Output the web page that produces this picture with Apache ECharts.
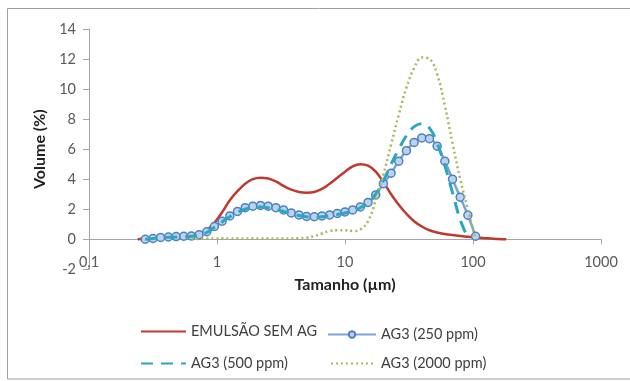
<!DOCTYPE html>
<html>
<head>
<meta charset="utf-8">
<script src="https://cdn.jsdelivr.net/npm/echarts@6/dist/echarts.min.js"></script>
<style>html,body{margin:0;padding:0;background:#fff}#c{width:630px;height:381px}</style>
</head>
<body>
<div id="c"></div>
<script>
// Particle size (µm)
var sizes = [0.240,0.275,0.316,0.363,0.417,0.479,0.550,0.631,0.724,0.832,0.955,1.096,1.259,1.445,1.660,1.905,2.188,2.512,2.884,3.311,3.802,4.365,5.012,5.754,6.607,7.586,8.710,10.00,11.48,13.18,15.14,17.38,19.95,22.91,26.30,30.20,34.67,39.81,45.71,52.48,60.26,69.18,79.43,91.20,104.7,120.2,138.0,158.5,182.0];
var seriesNames = ['EMULSÃO SEM AG','AG3 (250 ppm)','AG3 (500 ppm)','AG3 (2000 ppm)'];
var semAG = [0,0.05,0.1,0.15,0.18,0.2,0.2,0.22,0.3,0.6,1.1,1.8,2.6,3.2,3.7,4.0,4.1,4.05,3.85,3.55,3.3,3.15,3.1,3.15,3.35,3.7,4.1,4.5,4.85,5.0,4.9,4.5,3.8,3.0,2.3,1.7,1.2,0.85,0.6,0.45,0.35,0.28,0.22,0.17,0.12,0.08,0.05,0.02,0];
var ag250 = [null,0,0.05,0.12,0.15,0.18,0.2,0.22,0.3,0.5,0.85,1.2,1.55,1.85,2.1,2.2,2.25,2.2,2.1,1.95,1.75,1.62,1.52,1.5,1.55,1.62,1.72,1.82,1.95,2.15,2.45,2.95,3.7,4.4,5.2,5.9,6.45,6.75,6.7,6.2,5.2,4.0,2.8,1.6,0.2,null,null,null,null];
var ag500 = [null,0,0.05,0.1,0.13,0.15,0.18,0.2,0.28,0.45,0.8,1.15,1.5,1.8,2.0,2.12,2.15,2.1,2.0,1.85,1.7,1.58,1.5,1.47,1.5,1.57,1.65,1.75,1.88,2.1,2.4,3.0,3.9,5.0,6.0,6.9,7.5,7.7,7.4,6.4,4.9,3.1,1.3,0.1,null,null,null,null,null];
var ag2000 = [null,null,null,null,null,null,null,0,0.02,0.04,0.05,0.05,0.05,0.05,0.05,0.05,0.05,0.05,0.05,0.05,0.05,0.07,0.1,0.2,0.38,0.55,0.6,0.6,0.55,0.65,1.2,2.6,4.3,6.3,8.3,10.1,11.4,12.1,12.0,11.0,8.9,6.4,4.0,2.0,0.05,null,null,null,null];
var xTickLabels = {'0.1':'0,1','1':'1','10':'10','100':'100','1000':'1000'};
var yTicks = {min:-2,max:14,step:2};

function pairs(vals){
  var out=[];
  for(var i=0;i<sizes.length;i++){ if(vals[i]!==null) out.push([sizes[i],vals[i]]); }
  return out;
}
var FONT = 'Lato';
var chart = echarts.init(document.getElementById('c'), null, {renderer:'canvas'});
function leg(name, left, top, w, h, hideSymbol){
  var item = {name:name};
  if(hideSymbol) item.itemStyle = {opacity:0};
  return {data:[item], left:left, top:top, orient:'horizontal', padding:0, itemWidth:w, itemHeight:h, itemGap:4,
    textStyle:{fontFamily:FONT, fontSize:14.5, color:'#404040'}, selectedMode:false};
}
chart.setOption({
  animation:false,
  textStyle:{fontFamily:FONT},
  graphic:[{type:'rect', shape:{x:7.5,y:8.5,width:640,height:370.5}, style:{fill:'none', stroke:'#a0a0a0', lineWidth:1}, silent:true}],
  grid:{left:89, right:29, top:29, bottom:111.7, containLabel:false},
  legend:[leg(seriesNames[0],140,324,45,14,true), leg(seriesNames[1],327,327,48,8,false), leg(seriesNames[2],140,356,45,14,true), leg(seriesNames[3],330,356,45,14,true)],
  xAxis:{type:'log', logBase:10, min:0.1, max:1000, offset:-30,
    name:'Tamanho (µm)', nameLocation:'middle', nameGap:38,
    nameTextStyle:{fontFamily:FONT, fontSize:16, fontWeight:'bold', color:'#222'},
    axisLine:{onZero:false, lineStyle:{color:'#a6a6a6', width:1}},
    axisTick:{show:true, length:5, lineStyle:{color:'#a6a6a6'}},
    minorTick:{show:false}, splitLine:{show:false},
    axisLabel:{margin:16, fontFamily:FONT, fontSize:14.5, color:'#595959',
      formatter:function(v){ var k=String(Math.round(v*10)/10); return xTickLabels[k]!==undefined?xTickLabels[k]:k; }}
  },
  yAxis:{type:'value', min:yTicks.min, max:yTicks.max, interval:yTicks.step,
    name:'Volume (%)', nameLocation:'middle', nameGap:41, nameRotate:90,
    nameTextStyle:{fontFamily:FONT, fontSize:16, fontWeight:'bold', color:'#222'},
    axisLine:{show:true, onZero:false, lineStyle:{color:'#a6a6a6', width:1}},
    axisTick:{show:true, length:6, lineStyle:{color:'#a6a6a6'}},
    splitLine:{show:false},
    axisLabel:{margin:13, fontFamily:FONT, fontSize:14.5, color:'#595959'}
  },
  series:[
    {name:seriesNames[0], type:'line', data:pairs(semAG), smooth:0.4, showSymbol:false, symbol:'none',
      lineStyle:{color:'#c0392f', width:2.5}, itemStyle:{color:'#c0392f'}, z:2},
    {name:seriesNames[1], type:'line', data:pairs(ag250), smooth:0.4, symbol:'circle', symbolSize:8, showSymbol:true,
      lineStyle:{color:'#7aa3d8', width:2.5}, itemStyle:{color:'#bcd3ee', borderColor:'#4f7fc0', borderWidth:1.5}, z:3},
    {name:seriesNames[2], type:'line', data:pairs(ag500), smooth:0.4, symbol:'none', showSymbol:false,
      lineStyle:{color:'#2aa6bf', width:3, type:[12,8]}, itemStyle:{color:'#2aa6bf'}, z:4},
    {name:seriesNames[3], type:'line', data:pairs(ag2000), smooth:0.4, symbol:'none', showSymbol:false,
      lineStyle:{color:'#a5b85a', width:2.5, type:[2,3]}, itemStyle:{color:'#a5b85a'}, z:5}
  ]
});
</script>
</body>
</html>
